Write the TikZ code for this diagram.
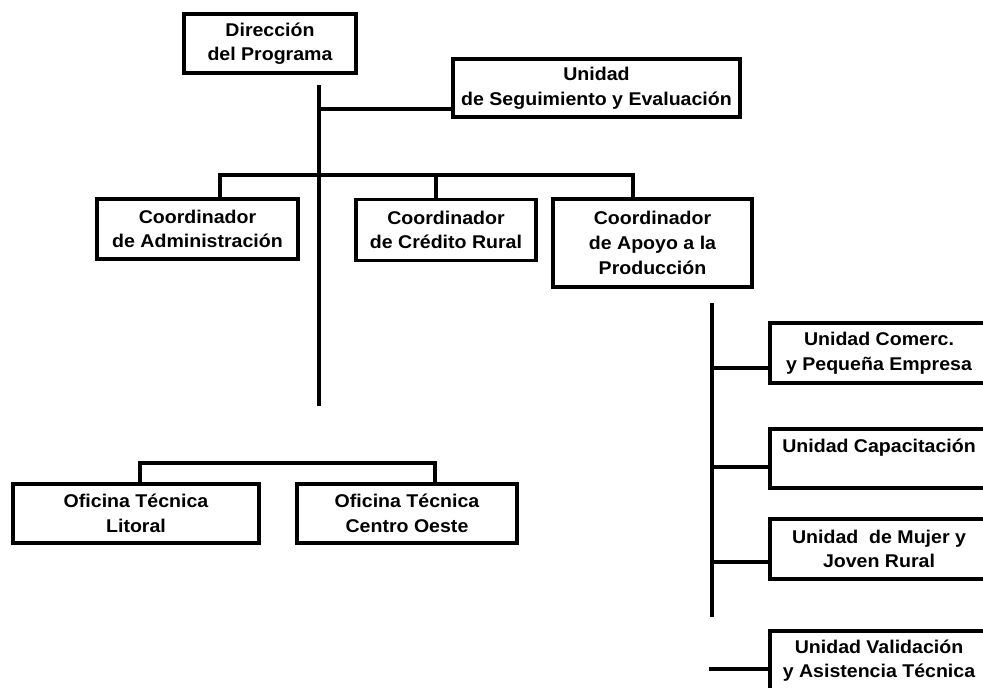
\documentclass[tikz,border=0pt]{standalone}
\usepackage{fontspec}
\setmainfont{Liberation Sans}[FakeStretch=1.06]
\usepackage{tikz}
\usetikzlibrary{positioning, calc}

\tikzset{
  orgbox/.style={draw, line width=1.8pt, align=center, inner sep=2pt,
    font=\bfseries\fontsize{10.5}{14}\selectfont},
  link/.style={line width=1.8pt}
}

\begin{document}
\begin{tikzpicture}[x=0.02cm, y=-0.02cm]
\useasboundingbox (0,0) rectangle (983,688);

% Top level
\node[orgbox, minimum width=3.44cm, minimum height=1.18cm] (dir) at (270,43.5) {Dirección\\del Programa};
\node[orgbox, minimum width=5.74cm, minimum height=1.16cm] (seg) at (596.5,88) {Unidad\\de Seguimiento y Evaluación};

% Coordinators
\node[orgbox, minimum width=4.02cm, minimum height=1.2cm] (adm) at (197.5,229) {Coordinador\\de Administración};
\node[orgbox, minimum width=3.6cm, minimum height=1.22cm] (cred) at (446,230) {Coordinador\\de Crédito Rural};
\node[orgbox, minimum width=3.98cm, minimum height=1.76cm] (apoyo) at (652.5,243) {Coordinador\\de Apoyo a la\\Producción};

% Offices
\node[orgbox, minimum width=4.92cm, minimum height=1.18cm] (lit) at (136,513.5) {Oficina Técnica\\Litoral};
\node[orgbox, minimum width=4.4cm, minimum height=1.18cm] (cen) at (407,513.5) {Oficina Técnica\\Centro Oeste};

% Units under Apoyo a la Producción
\node[orgbox, minimum width=4.36cm, minimum height=1.2cm] (uc) at (879,353) {Unidad Comerc.\\y Pequeña Empresa};
\node[orgbox, minimum width=4.36cm, minimum height=1.18cm] (cap) at (879,458.5) {Unidad Capacitación\\~};
\node[orgbox, minimum width=4.36cm, minimum height=1.2cm] (muj) at (879,549) {Unidad\ \ de Mujer y\\Joven Rural};
\node[orgbox, minimum width=4.36cm, minimum height=1.18cm] (val) at (879,660.5) {Unidad Validación\\y Asistencia Técnica};

% Main trunk
\coordinate (t0) at (319,85);
\coordinate (t1) at (319,406);
\draw[link] (t0) -- (t1);
\draw[link] (t0 |- 0,109) -- (seg.west |- 0,109);

% Coordinator bar
\coordinate (cb) at (319,175);
\draw[link] (adm.north -| 220,0) |- (cb) -| (apoyo.north -| 633,0);
\draw[link] (cred.north -| 436,0) -- (436,175);

% Office bar
\draw[link] (lit.north -| 140,0) |- (435,463) -- (cen.north -| 435,0);

% Right column
\coordinate (r0) at (712,303);
\coordinate (r1) at (712,617);
\draw[link] (r0) -- (r1);
\foreach \n/\y in {uc/368, cap/467, muj/562} {
  \draw[link] (712,\y) -- (\n.west |- 0,\y);
}
\draw[link] (709,669) -- (val.west |- 0,669);
\end{tikzpicture}
\end{document}
